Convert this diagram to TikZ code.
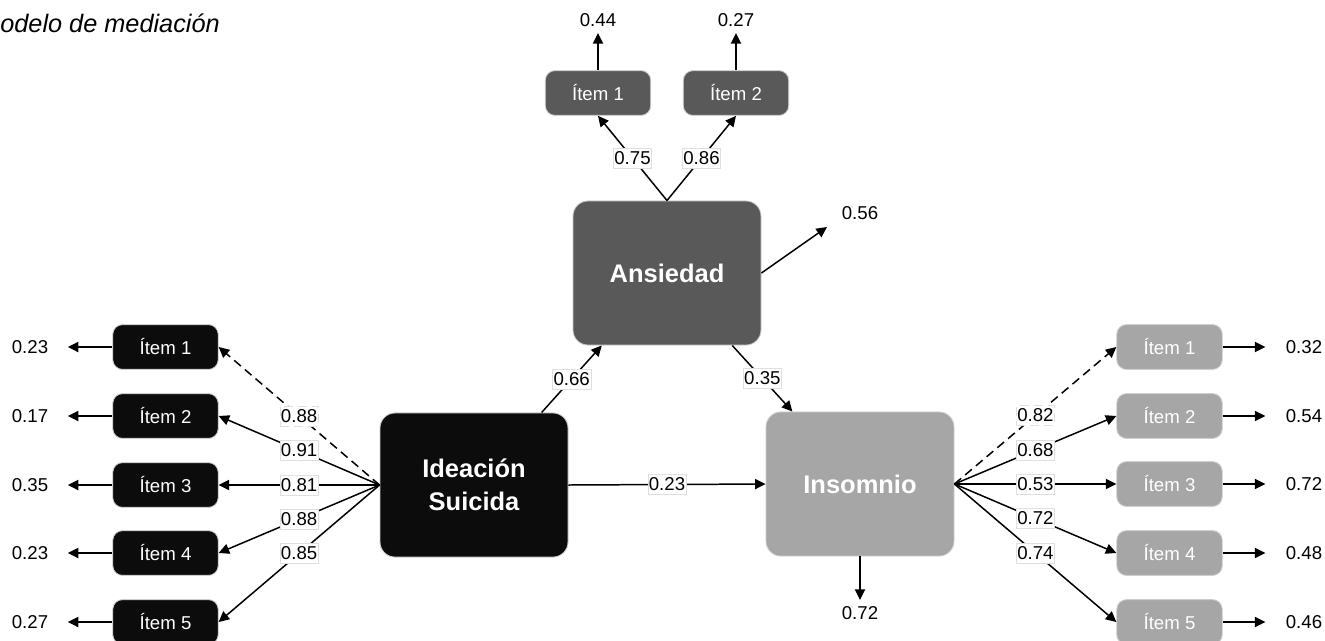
\documentclass[tikz,border=0pt]{standalone}
\usepackage{fontspec}
\setmainfont{Liberation Sans}
\usetikzlibrary{arrows.meta}
\definecolor{darkbox}{RGB}{89,89,89}
\definecolor{lightbox}{RGB}{166,166,166}
\definecolor{inkbox}{RGB}{12,12,12}
\definecolor{rim}{RGB}{205,205,205}

\begin{document}
\begin{tikzpicture}[x=0.02cm, y=-0.02cm,
    big/.style={rounded corners=8.5pt, draw=rim, line width=0.5pt, minimum width=107pt, minimum height=82pt, text=white, align=center, font=\fontsize{14.5}{18.5}\selectfont\bfseries},
    item/.style={rounded corners=5.5pt, draw=rim, line width=0.5pt, minimum width=60pt, minimum height=25.5pt, text=white, font=\fontsize{10.6}{12}\selectfont},
    val/.style={inner sep=1pt, font=\fontsize{10.6}{12}\selectfont},
    lbl/.style={fill=white, draw=gray!25, line width=0.3pt, inner xsep=0.6pt, inner ysep=2pt, font=\fontsize{10.6}{12}\selectfont},
    arr/.style={-{Triangle[length=6pt,width=5.8pt]}, line width=0.85pt},
    dsh/.style={dash pattern=on 5pt off 3pt}]
    \useasboundingbox (0,0) rectangle (1325,640);
    \node[anchor=base west, inner sep=0, font=\fontsize{14.4}{17}\selectfont\itshape] (title) at (0,32) {odelo de mediación};

    \node[big, fill=darkbox] (ans) at (667,273) {Ansiedad};
    \node[big, fill=inkbox] (ide) at (474,485) {Ideación\\Suicida};
    \node[big, fill=lightbox] (ins) at (860,484) {Insomnio};

    \node[item, fill=darkbox] (a1) at (598,93) {Ítem 1};
    \node[item, fill=darkbox] (a2) at (736,93) {Ítem 2};
    \node[val] (a1v) at (598,20) {0.44};
    \node[val] (a2v) at (736,20) {0.27};

    \node[item, fill=inkbox] (s1) at (165.5,347) {Ítem 1};
    \node[item, fill=inkbox] (s2) at (165.5,416) {Ítem 2};
    \node[item, fill=inkbox] (s3) at (165.5,485) {Ítem 3};
    \node[item, fill=inkbox] (s4) at (165.5,553) {Ítem 4};
    \node[item, fill=inkbox] (s5) at (165.5,622) {Ítem 5};
    \node[val] (s1v) at (30,347) {0.23};
    \node[val] (s2v) at (30,416) {0.17};
    \node[val] (s3v) at (30,485) {0.35};
    \node[val] (s4v) at (30,553) {0.23};
    \node[val] (s5v) at (30,622) {0.27};

    \node[item, fill=lightbox] (i1) at (1169.5,347) {Ítem 1};
    \node[item, fill=lightbox] (i2) at (1169.5,416) {Ítem 2};
    \node[item, fill=lightbox] (i3) at (1169.5,484) {Ítem 3};
    \node[item, fill=lightbox] (i4) at (1169.5,553) {Ítem 4};
    \node[item, fill=lightbox] (i5) at (1169.5,622) {Ítem 5};
    \node[val] (i1v) at (1304,347) {0.32};
    \node[val] (i2v) at (1304,416) {0.54};
    \node[val] (i3v) at (1304,484) {0.72};
    \node[val] (i4v) at (1304,553) {0.48};
    \node[val] (i5v) at (1304,622) {0.46};

    \node[val] (ansv) at (860,213) {0.56};
    \coordinate (anse) at (827,227);
    \node[val] (insv) at (860,613) {0.72};

    \draw[arr] (ans.north) -- node[lbl] (c1) {0.75} (a1.south);
    \draw[arr] (ans.north) -- node[lbl] (c2) {0.86} (a2.south);
    \draw[arr, shorten >=2.5pt] (a1.north) -- (a1v);
    \draw[arr, shorten >=2.5pt] (a2.north) -- (a2v);
    \draw[arr] (ans.east) -- (anse);
    \draw[arr, shorten >=2.5pt] (ins.south) -- (insv);

    \draw[arr] (ide.47) -- node[lbl] (c3) {0.66} (ans.228);
    \draw[arr] (ans.312) -- node[lbl] (c4) {0.35} (ins.133);
    \draw[arr] (ide.east) -- node[lbl] (c5) {0.23} (ins.west);

    \draw[arr, dsh] (ide.west) -- node[lbl] (d1) {0.88} (s1.east);
    \draw[arr] (ide.west) -- node[lbl] (d2) {0.91} (s2.east);
    \draw[arr] (ide.west) -- node[lbl] (d3) {0.81} (s3.east);
    \draw[arr] (ide.west) -- node[lbl] (d4) {0.88} (s4.east);
    \draw[arr] (ide.west) -- node[lbl] (d5) {0.85} (s5.east);
    \draw[arr, shorten >=10pt] (s1.west) -- (s1v);
    \draw[arr, shorten >=10pt] (s2.west) -- (s2v);
    \draw[arr, shorten >=10pt] (s3.west) -- (s3v);
    \draw[arr, shorten >=10pt] (s4.west) -- (s4v);
    \draw[arr, shorten >=10pt] (s5.west) -- (s5v);

    \draw[arr, dsh] (ins.east) -- node[lbl] (e1) {0.82} (i1.west);
    \draw[arr] (ins.east) -- node[lbl] (e2) {0.68} (i2.west);
    \draw[arr] (ins.east) -- node[lbl] (e3) {0.53} (i3.west);
    \draw[arr] (ins.east) -- node[lbl] (e4) {0.72} (i4.west);
    \draw[arr] (ins.east) -- node[lbl] (e5) {0.74} (i5.west);
    \draw[arr, shorten >=10.5pt] (i1.east) -- (i1v);
    \draw[arr, shorten >=10.5pt] (i2.east) -- (i2v);
    \draw[arr, shorten >=10.5pt] (i3.east) -- (i3v);
    \draw[arr, shorten >=10.5pt] (i4.east) -- (i4v);
    \draw[arr, shorten >=10.5pt] (i5.east) -- (i5v);
\end{tikzpicture}
\end{document}
